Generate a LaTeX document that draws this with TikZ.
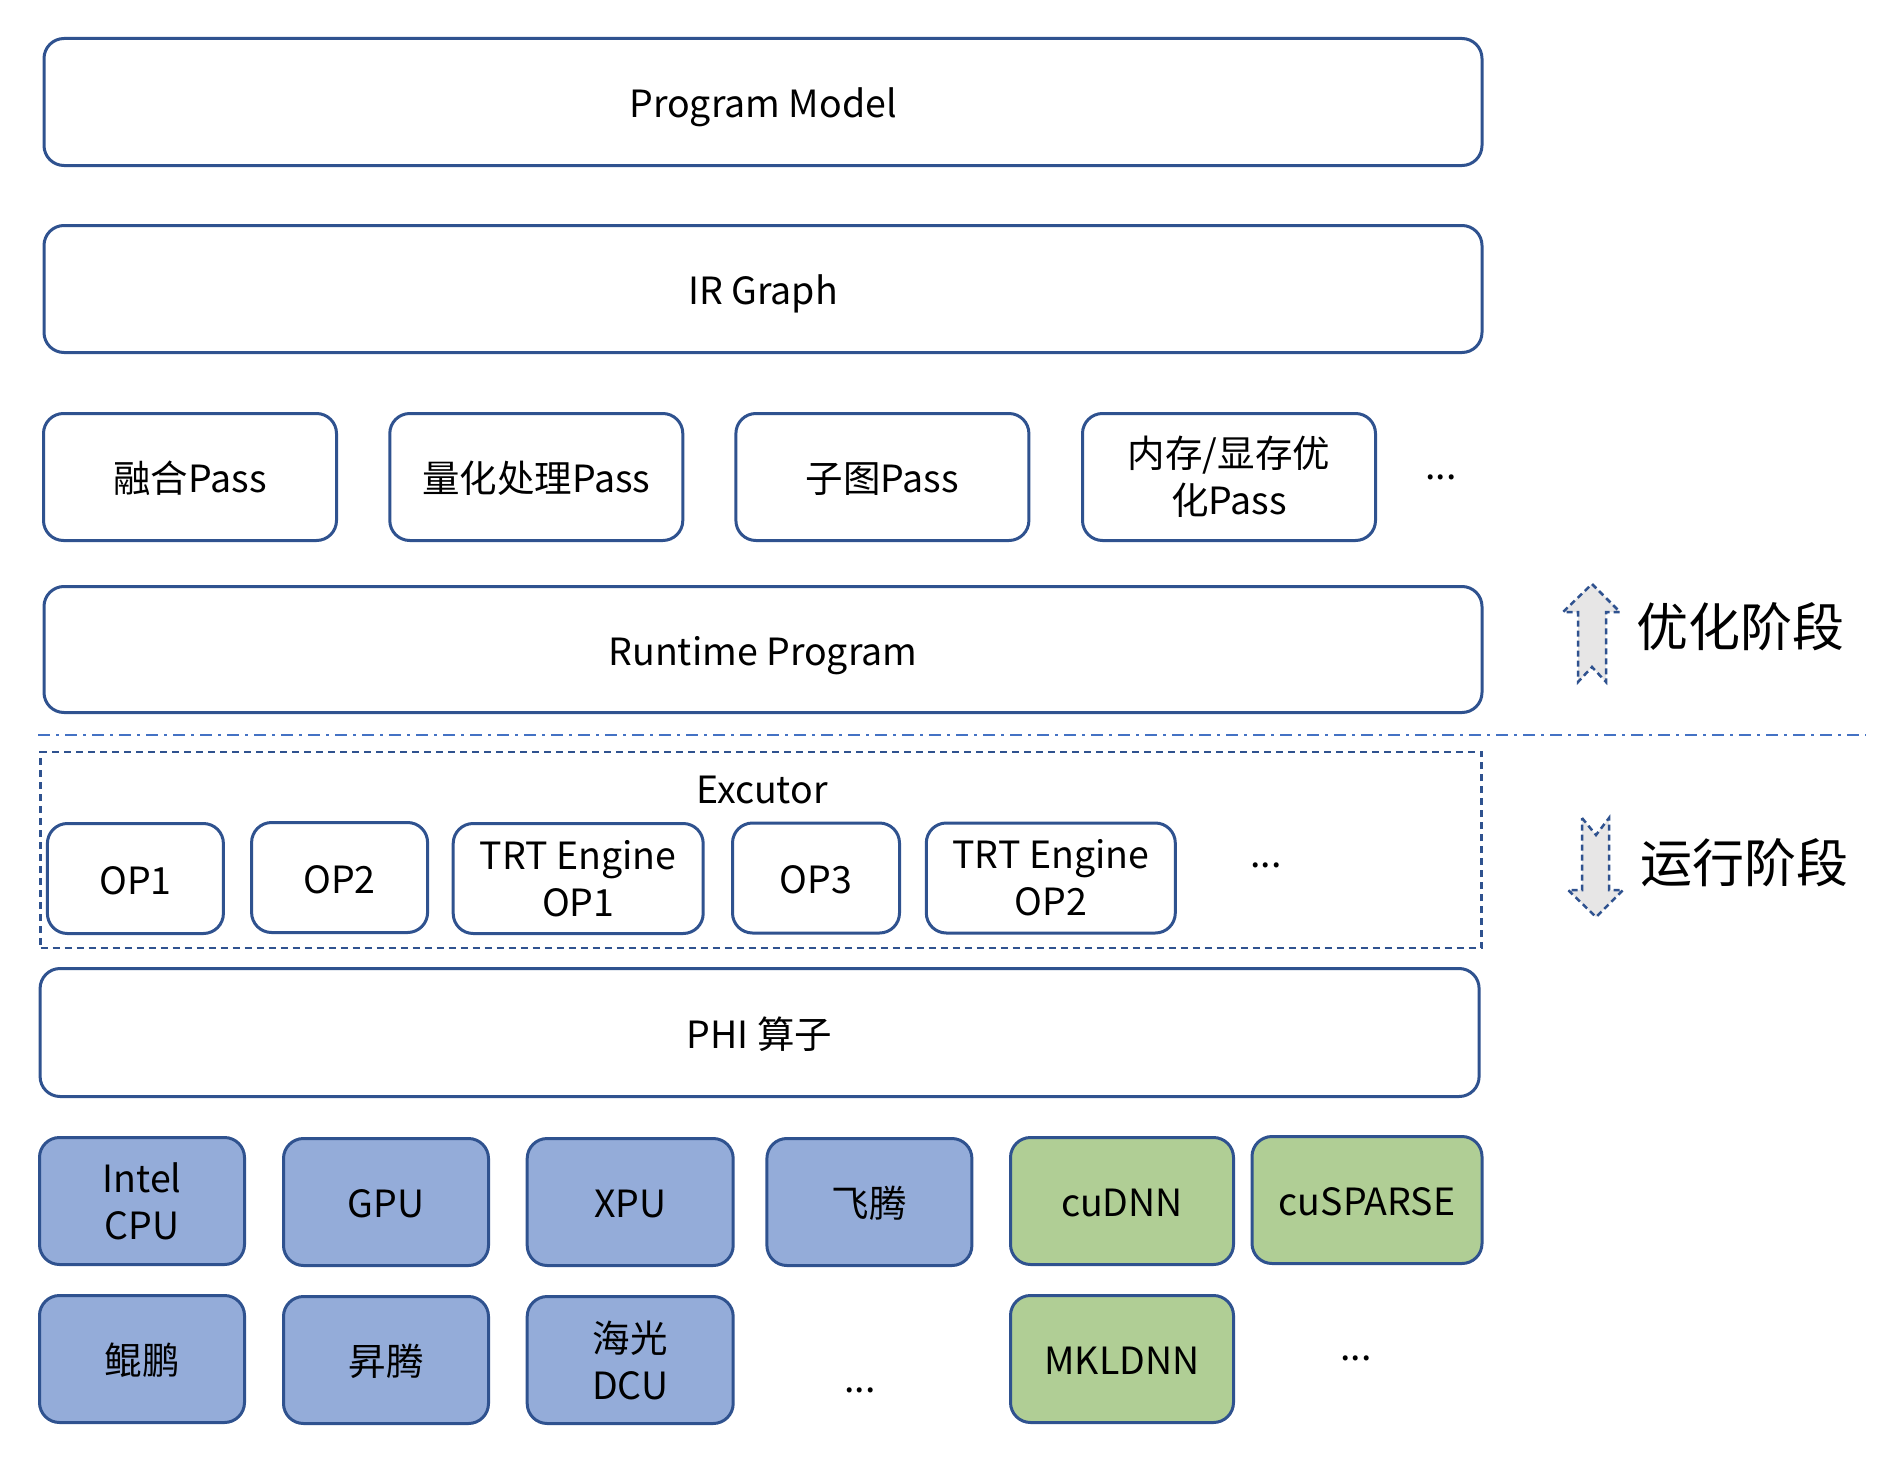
\documentclass[tikz,border=0pt]{standalone}
\usepackage{fontspec}
\setmainfont{Noto Sans CJK SC}
\usepackage{tikz}
\usetikzlibrary{positioning,calc}
\definecolor{lineblue}{HTML}{2F528F}
\definecolor{sepblue}{HTML}{4472C4}
\definecolor{hwblue}{HTML}{94ACD9}
\definecolor{libgreen}{HTML}{B0CE95}
\definecolor{arrowgray}{HTML}{E7E6E6}
\tikzset{LAYER style/.style={x=1pt,y=-1pt,every node/.style={font=\fontsize{37.5}{47}\selectfont}}}

\begin{document}
\begin{tikzpicture}[LAYER style,node distance=28pt]
	\tikzstyle{blk}=[draw=lineblue,line width=3pt,rounded corners=20pt,align=center,inner sep=0pt,fill=white,text height=31pt,text depth=0pt]
	\tikzstyle{two}=[text height=,text depth=]
	\tikzstyle{wide}=[blk,minimum width=1438,minimum height=127]
	\tikzstyle{pass}=[blk,minimum width=293,minimum height=127]
	\tikzstyle{op}=[blk,minimum height=110]
	\tikzstyle{hw}=[blk,fill=hwblue,minimum width=205,minimum height=127]
	\tikzstyle{lib}=[blk,fill=libgreen,minimum height=127]
	\tikzstyle{phase}=[draw=lineblue,line width=2.5pt,dash pattern=on 6pt off 4pt,fill=arrowgray,line join=miter]
	\tikzstyle{phase text}=[font=\fontsize{52}{60}\selectfont]
	
	\useasboundingbox (0,0) rectangle (1888,1464);
	
	\node[wide] (pm) at (763,102) {Program Model};
	\node[wide] (ir) at (763,289) {IR Graph};
	
	\node[pass] (fuse) at (190,477) {融合Pass};
	\node[pass] (quant) at (536.3,477) {量化处理Pass};
	\node[pass] (sub) at (882.4,477) {子图Pass};
	\node[pass,two] (mem) at (1229,477) {内存/显存优\\化Pass};
	\node (passdots) at (1441,477) {...};
	
	\node[wide,minimum height=126] (rt) at (763,649.5) {Runtime Program};
	
	\coordinate (sepL) at (38,735);
	\coordinate (sepR) at (1866,735);
	\draw[sepblue,line width=2.5pt,dash pattern=on 12pt off 6pt on 3pt off 6pt] (sepL) -- (sepR);
	
	\node[draw=lineblue,line width=2.5pt,dash pattern=on 7pt off 5pt,minimum width=1441,minimum height=196] (exec) at (761,850) {};
	\node[text height=31pt,text depth=0pt] (execlbl) at (762,788) {Excutor};
	\node[op,minimum width=176] (op1) at (135.4,878.5) {OP1};
	\node[op,minimum width=176] (op2) at (339.6,877.5) {OP2};
	\node[op,two,minimum width=250] (trt1) at (578.2,878.5) {TRT Engine\\OP1};
	\node[op,minimum width=167] (op3) at (816,878) {OP3};
	\node[op,two,minimum width=249] (trt2) at (1050.8,878) {TRT Engine\\OP2};
	\node (opdots) at (1266,865) {...};
	
	\node[wide,minimum height=128,minimum width=1439] (phi) at (759.6,1032.5) {PHI 算子};
	
	\node[hw,two] (cpu) at (142,1201) {Intel\\CPU};
	\node[hw] (gpu) at (386,1202) {GPU};
	\node[hw,minimum width=206] (xpu) at (630.2,1202) {XPU};
	\node[hw] (ft) at (869.4,1202) {飞腾};
	\node[lib,minimum width=223] (cudnn) at (1122,1201) {cuDNN};
	\node[lib,minimum width=230] (cusparse) at (1367,1200) {cuSPARSE};
	
	\node[hw] [below=of cpu] (kp) {鲲鹏};
	\node[hw] [below=of gpu] (st) {昇腾};
	\node[hw,two,minimum width=206] [below=of xpu] (hg) {海光\\DCU};
	\node (hwdots) at (860,1390) {...};
	\node[lib,minimum width=223] [below=of cudnn] (mkl) {MKLDNN};
	\node (libdots) at (1356,1358) {...};
	
	\draw[phase] (1592,584) -- (1620,612) -- (1606,612) -- (1606,682) -- (1592,667)
	-- (1578,682) -- (1578,612) -- (1563,612) -- cycle;
	\node[phase text] (optlbl) at (1740,627) {优化阶段};
	\draw[phase] (1582,818) -- (1596,835) -- (1609,818) -- (1609,890) -- (1623,890)
	-- (1596,917) -- (1568,890) -- (1582,890) -- cycle;
	\node[phase text] (runlbl) at (1744,863) {运行阶段};
\end{tikzpicture}
\end{document}
